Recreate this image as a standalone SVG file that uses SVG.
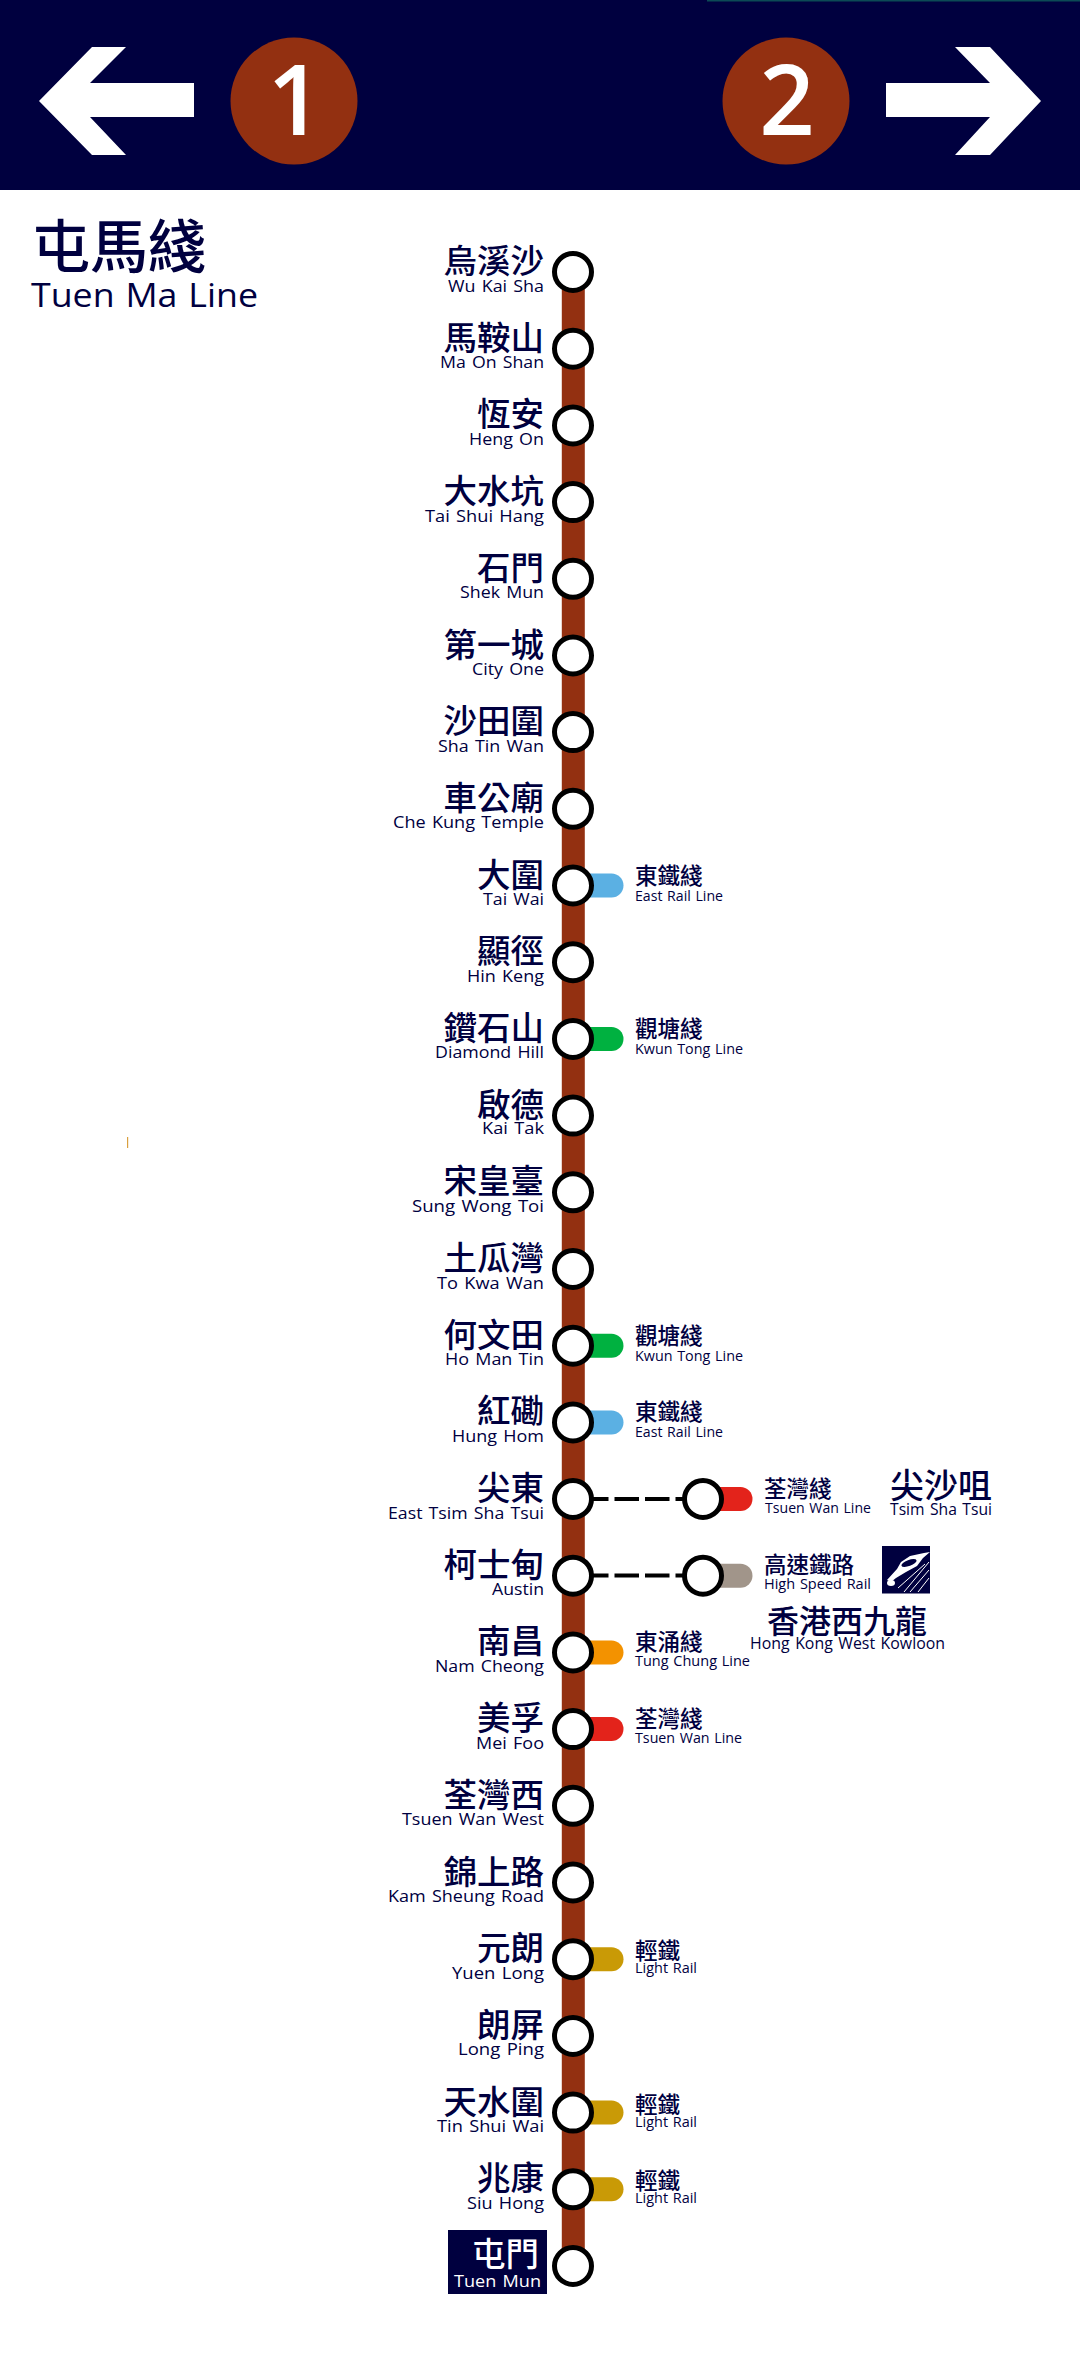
<svg xmlns="http://www.w3.org/2000/svg" width="1080" height="2358" viewBox="0 0 1080 2358">
<style>
text{font-family:"Open Sans","Noto Sans","Noto Sans CJK TC",sans-serif;fill:#00003f;font-weight:500;word-spacing:1.500px}
.cn,.rc,.big,.ttl{font-family:"Noto Sans CJK TC","Noto Sans CJK JP",sans-serif;font-weight:500;word-spacing:0}
.cn{font-size:33.5px;text-anchor:end}
.en{font-size:17px;text-anchor:end}
.rc{font-size:22.5px}
.re{font-size:15px;word-spacing:1px}
.big{font-size:32px}
.be{font-size:17px}
.st{fill:#fff;stroke:#000;stroke-width:5}
.num{font-size:97px;font-weight:600;text-anchor:middle;fill:#fff}
.erl{fill:#5bb0e3}.ktl{fill:#00b140}.tcl{fill:#f39200}.twl{fill:#e3231b}.lr{fill:#c99a06}.hsr{fill:#a1958a}
</style>
<defs>
<path id="pill" d="M580 -12H611.500a12 12 0 0 1 0 24H580z"/>
<path id="pill2" d="M710 -12H740.500a12 12 0 0 1 0 24H710z"/>
</defs>
<rect width="1080" height="2358" fill="#fff"/>
<g id="header">
<rect width="1080" height="190" fill="#00003f"/>
<rect x="707" width="373" height="1.500" fill="#0b4a55"/>
<polygon fill="#fff" points="39,101 92,47 126,47 90,83 194,83 194,117 90,117 126,155 92,155"/>
<polygon fill="#fff" points="1041,101 990,47 955,47 990,83 886,83 886,117 990,117 955,155 990,155"/>
<circle cx="294" cy="101" r="63.500" fill="#933011"/>
<circle cx="786" cy="101" r="63.500" fill="#933011"/>
<text class="num" x="295" y="135">1</text>
<text class="num" x="787" y="135">2</text>
</g>
<g id="title">
<text class="ttl" x="32" y="268" font-size="58">屯馬綫</text>
<text x="31" y="307" font-size="33" textLength="227" lengthAdjust="spacingAndGlyphs">Tuen Ma Line</text>
</g>
<rect x="127" y="1137" width="1.200" height="11" fill="#d9a040"/>
<g id="connectors" fill="none">
<line x1="573.300" y1="272" x2="573.300" y2="2266" stroke="#933011" stroke-width="23"/>
<line x1="584" y1="1499" x2="703" y2="1499" stroke="#000" stroke-width="4" stroke-dasharray="24.500 6"/>
<line x1="584" y1="1575.500" x2="703" y2="1575.500" stroke="#000" stroke-width="4" stroke-dasharray="24.500 6"/>
</g>
<g id="wu-kai-sha" transform="translate(0 272)"><circle class="st" cx="573" r="18.500"/><text class="cn" x="544" y="1">烏溪沙</text><text class="en" x="544" y="19.500" lengthAdjust="spacingAndGlyphs" textLength="96">Wu Kai Sha</text></g>
<g id="ma-on-shan" transform="translate(0 348.700)"><circle class="st" cx="573" r="18.500"/><text class="cn" x="544" y="1">馬鞍山</text><text class="en" x="544" y="19.500" lengthAdjust="spacingAndGlyphs" textLength="104">Ma On Shan</text></g>
<g id="heng-on" transform="translate(0 425.400)"><circle class="st" cx="573" r="18.500"/><text class="cn" x="544" y="1">恆安</text><text class="en" x="544" y="19.500" lengthAdjust="spacingAndGlyphs" textLength="75">Heng On</text></g>
<g id="tai-shui-hang" transform="translate(0 502.100)"><circle class="st" cx="573" r="18.500"/><text class="cn" x="544" y="1">大水坑</text><text class="en" x="544" y="19.500" lengthAdjust="spacingAndGlyphs" textLength="119">Tai Shui Hang</text></g>
<g id="shek-mun" transform="translate(0 578.800)"><circle class="st" cx="573" r="18.500"/><text class="cn" x="544" y="1">石門</text><text class="en" x="544" y="19.500" lengthAdjust="spacingAndGlyphs" textLength="84">Shek Mun</text></g>
<g id="city-one" transform="translate(0 655.500)"><circle class="st" cx="573" r="18.500"/><text class="cn" x="544" y="1">第一城</text><text class="en" x="544" y="19.500" lengthAdjust="spacingAndGlyphs" textLength="72">City One</text></g>
<g id="sha-tin-wai" transform="translate(0 732.100)"><circle class="st" cx="573" r="18.500"/><text class="cn" x="544" y="1">沙田圍</text><text class="en" x="544" y="19.500" lengthAdjust="spacingAndGlyphs" textLength="106">Sha Tin Wan</text></g>
<g id="che-kung-temple" transform="translate(0 808.800)"><circle class="st" cx="573" r="18.500"/><text class="cn" x="544" y="1">車公廟</text><text class="en" x="544" y="19.500" lengthAdjust="spacingAndGlyphs" textLength="151">Che Kung Temple</text></g>
<g id="tai-wai" transform="translate(0 885.500)"><use href="#pill" class="erl"/><circle class="st" cx="573" r="18.500"/><text class="cn" x="544" y="1">大圍</text><text class="en" x="544" y="19.500" lengthAdjust="spacingAndGlyphs" textLength="61">Tai Wai</text><text class="rc" x="635" y="-2">東鐵綫</text><text class="re" x="635" y="15" lengthAdjust="spacingAndGlyphs" textLength="88">East Rail Line</text></g>
<g id="hin-keng" transform="translate(0 962.200)"><circle class="st" cx="573" r="18.500"/><text class="cn" x="544" y="1">顯徑</text><text class="en" x="544" y="19.500" lengthAdjust="spacingAndGlyphs" textLength="77">Hin Keng</text></g>
<g id="diamond-hill" transform="translate(0 1038.900)"><use href="#pill" class="ktl"/><circle class="st" cx="573" r="18.500"/><text class="cn" x="544" y="1">鑽石山</text><text class="en" x="544" y="19.500" lengthAdjust="spacingAndGlyphs" textLength="109">Diamond Hill</text><text class="rc" x="635" y="-2">觀塘綫</text><text class="re" x="635" y="15" lengthAdjust="spacingAndGlyphs" textLength="108">Kwun Tong Line</text></g>
<g id="kai-tak" transform="translate(0 1115.600)"><circle class="st" cx="573" r="18.500"/><text class="cn" x="544" y="1">啟德</text><text class="en" x="544" y="18" lengthAdjust="spacingAndGlyphs" textLength="62">Kai Tak</text></g>
<g id="sung-wong-toi" transform="translate(0 1192.300)"><circle class="st" cx="573" r="18.500"/><text class="cn" x="544" y="1">宋皇臺</text><text class="en" x="544" y="19.500" lengthAdjust="spacingAndGlyphs" textLength="132">Sung Wong Toi</text></g>
<g id="to-kwa-wan" transform="translate(0 1269)"><circle class="st" cx="573" r="18.500"/><text class="cn" x="544" y="1">土瓜灣</text><text class="en" x="544" y="19.500" lengthAdjust="spacingAndGlyphs" textLength="107">To Kwa Wan</text></g>
<g id="ho-man-tin" transform="translate(0 1345.700)"><use href="#pill" class="ktl"/><circle class="st" cx="573" r="18.500"/><text class="cn" x="544" y="1">何文田</text><text class="en" x="544" y="19.500" lengthAdjust="spacingAndGlyphs" textLength="99">Ho Man Tin</text><text class="rc" x="635" y="-2">觀塘綫</text><text class="re" x="635" y="15" lengthAdjust="spacingAndGlyphs" textLength="108">Kwun Tong Line</text></g>
<g id="hung-hom" transform="translate(0 1422.400)"><use href="#pill" class="erl"/><circle class="st" cx="573" r="18.500"/><text class="cn" x="544" y="1">紅磡</text><text class="en" x="544" y="19.500" lengthAdjust="spacingAndGlyphs" textLength="92">Hung Hom</text><text class="rc" x="635" y="-2">東鐵綫</text><text class="re" x="635" y="15" lengthAdjust="spacingAndGlyphs" textLength="88">East Rail Line</text></g>
<g id="east-tsim-sha-tsui" transform="translate(0 1499)"><circle class="st" cx="573" r="18.500"/><text class="cn" x="544" y="1">尖東</text><text class="en" x="544" y="19.500" lengthAdjust="spacingAndGlyphs" textLength="156">East Tsim Sha Tsui</text></g>
<g id="tsim-sha-tsui" transform="translate(0 1499)"><use href="#pill2" class="twl"/><circle class="st" cx="703" r="18.500"/><text class="rc" x="764" y="-2">荃灣綫</text><text class="re" x="765" y="14" lengthAdjust="spacingAndGlyphs" textLength="106">Tsuen Wan Line</text><text class="big" x="890" y="-1" style="font-size:34px">尖沙咀</text><text class="be" x="890" y="16" lengthAdjust="spacingAndGlyphs" textLength="102">Tsim Sha Tsui</text></g>
<g id="austin" transform="translate(0 1575.700)"><circle class="st" cx="573" r="18.500"/><text class="cn" x="544" y="1">柯士甸</text><text class="en" x="544" y="19.500" lengthAdjust="spacingAndGlyphs" textLength="52">Austin</text></g>
<g id="hong-kong-west-kowloon" transform="translate(0 1575.700)"><use href="#pill2" class="hsr"/><circle class="st" cx="703" r="18.500"/><text class="rc" x="764" y="-3">高速鐵路</text><text class="re" x="764" y="13" lengthAdjust="spacingAndGlyphs" textLength="107">High Speed Rail</text><text class="big" x="767" y="57">香港西九龍</text><text class="be" x="750" y="73" lengthAdjust="spacingAndGlyphs" textLength="195">Hong Kong West Kowloon</text></g>
<g id="hsr-icon">
<rect x="882" y="1546" width="48" height="47.500" fill="#00003f"/>
<path fill="#fff" d="M887 1580L897 1569L901 1562L910 1556L924 1553L930 1552L923 1558L917 1566L906 1572L896 1578L891 1582Z"/>
<ellipse cx="909" cy="1563" rx="8" ry="3" transform="rotate(-20 909 1563)" fill="#00003f"/>
<ellipse cx="891" cy="1583" rx="4" ry="3" fill="#fff"/>
<path fill="none" stroke="#fff" stroke-width="1" d="M904 1592L929 1562M910 1592L929 1570M898 1588L925 1564M918 1592L929 1578"/>
</g>
<g id="nam-cheong" transform="translate(0 1652.400)"><use href="#pill" class="tcl"/><circle class="st" cx="573" r="18.500"/><text class="cn" x="544" y="1">南昌</text><text class="en" x="544" y="19.500" lengthAdjust="spacingAndGlyphs" textLength="109">Nam Cheong</text><text class="rc" x="635" y="-2">東涌綫</text><text class="re" x="635" y="14" lengthAdjust="spacingAndGlyphs" textLength="115">Tung Chung Line</text></g>
<g id="mei-foo" transform="translate(0 1729.100)"><use href="#pill" class="twl"/><circle class="st" cx="573" r="18.500"/><text class="cn" x="544" y="1">美孚</text><text class="en" x="544" y="19.500" lengthAdjust="spacingAndGlyphs" textLength="68">Mei Foo</text><text class="rc" x="635" y="-2">荃灣綫</text><text class="re" x="635" y="14" lengthAdjust="spacingAndGlyphs" textLength="107">Tsuen Wan Line</text></g>
<g id="tsuen-wan-west" transform="translate(0 1805.800)"><circle class="st" cx="573" r="18.500"/><text class="cn" x="544" y="1">荃灣西</text><text class="en" x="544" y="19.500" lengthAdjust="spacingAndGlyphs" textLength="142">Tsuen Wan West</text></g>
<g id="kam-sheung-road" transform="translate(0 1882.500)"><circle class="st" cx="573" r="18.500"/><text class="cn" x="544" y="1">錦上路</text><text class="en" x="544" y="19.500" lengthAdjust="spacingAndGlyphs" textLength="156">Kam Sheung Road</text></g>
<g id="yuen-long" transform="translate(0 1959.200)"><use href="#pill" class="lr"/><circle class="st" cx="573" r="18.500"/><text class="cn" x="544" y="1">元朗</text><text class="en" x="544" y="19.500" lengthAdjust="spacingAndGlyphs" textLength="92">Yuen Long</text><text class="rc" x="635" y="0">輕鐵</text><text class="re" x="635" y="14" lengthAdjust="spacingAndGlyphs" textLength="62">Light Rail</text></g>
<g id="long-ping" transform="translate(0 2035.900)"><circle class="st" cx="573" r="18.500"/><text class="cn" x="544" y="1">朗屏</text><text class="en" x="544" y="19.500" lengthAdjust="spacingAndGlyphs" textLength="86">Long Ping</text></g>
<g id="tin-shui-wai" transform="translate(0 2112.600)"><use href="#pill" class="lr"/><circle class="st" cx="573" r="18.500"/><text class="cn" x="544" y="1">天水圍</text><text class="en" x="544" y="19.500" lengthAdjust="spacingAndGlyphs" textLength="107">Tin Shui Wai</text><text class="rc" x="635" y="0">輕鐵</text><text class="re" x="635" y="14" lengthAdjust="spacingAndGlyphs" textLength="62">Light Rail</text></g>
<g id="siu-hong" transform="translate(0 2189.300)"><use href="#pill" class="lr"/><circle class="st" cx="573" r="18.500"/><text class="cn" x="544" y="1">兆康</text><text class="en" x="544" y="19.500" lengthAdjust="spacingAndGlyphs" textLength="77">Siu Hong</text><text class="rc" x="635" y="0">輕鐵</text><text class="re" x="635" y="14" lengthAdjust="spacingAndGlyphs" textLength="62">Light Rail</text></g>
<g id="tuen-mun" transform="translate(0 2266)"><rect x="448" y="-36" width="99" height="64" fill="#00003f"/><circle class="st" cx="573" r="18.500"/><text class="cn" x="539" y="0" style="fill:#fff">屯門</text><text class="en" x="541" y="21" lengthAdjust="spacingAndGlyphs" textLength="87" style="fill:#fff">Tuen Mun</text></g>
</svg>
